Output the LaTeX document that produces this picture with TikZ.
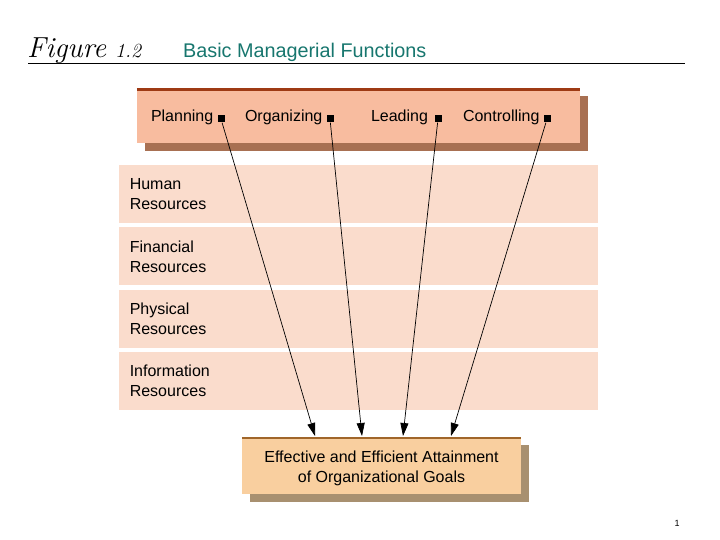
\documentclass[tikz,border=0pt]{standalone}
\usepackage{fontspec}
\newfontfamily\arial{Liberation Sans}
\usepackage{xcolor}
\usetikzlibrary{arrows.meta,shadows}
\definecolor{titleteal}{HTML}{17766E}
\definecolor{funcfill}{HTML}{F8BC9F}
\definecolor{funcline}{HTML}{9E3A14}
\definecolor{funcshade}{HTML}{A87052}
\definecolor{resfill}{HTML}{FADCCC}
\definecolor{goalfill}{HTML}{F9CF9F}
\definecolor{goalline}{HTML}{A0662A}
\definecolor{goalshade}{HTML}{A89070}

\tikzset{
	txt/.style = {inner sep=0, outer sep=0, font=\arial\fontsize{16}{20}\selectfont},
	func/.style = {txt, anchor=west},
	marker/.style = {fill=black, minimum size=7pt, inner sep=0},
	funcbox/.style = {fill=funcfill, minimum width=443pt, minimum height=55pt, inner sep=0,
		drop shadow={shadow xshift=8pt, shadow yshift=-8pt, fill=funcshade, opacity=1}},
	resbox/.style = {fill=resfill, minimum width=479pt, minimum height=58pt, inner sep=0},
	goalbox/.style = {fill=goalfill, minimum width=279pt, minimum height=57pt, inner sep=0,
		drop shadow={shadow xshift=8pt, shadow yshift=-8pt, fill=goalshade, opacity=1}},
	link/.style = {-{Triangle[length=13pt,width=8pt]}, line width=0.7pt}
}

\begin{document}
\begin{tikzpicture}[x=1pt, y=-1pt]
	\useasboundingbox (0,0) rectangle (720,540);
	% title
	\node[anchor=base west, inner sep=0, font=\itshape\fontsize{29}{29}\selectfont] (figure) at (27,58) {Figure};
	\node[anchor=base west, inner sep=0, font=\itshape\fontsize{20}{20}\selectfont] (fignum) at (115,58) {1.2};
	\node[anchor=base west, inner sep=0, text=titleteal, font=\arial\fontsize{19.8}{20}\selectfont] (title) at (183,58) {Basic Managerial Functions};
	\draw[line width=1pt] (28,64) -- (685,64);

	% functions
	\node[funcbox] (functions) at (358.5,115.5) {};
	\draw[funcline, line width=3pt] ([yshift=-1.5pt]functions.north west) -- ([yshift=-1.5pt]functions.north east);
	\node[func] (planning) at (151,117) {Planning};
	\node[func] (organizing) at (245,117) {Organizing};
	\node[func] (leading) at (371,117) {Leading};
	\node[func] (controlling) at (463,117) {Controlling};
	\node[marker] (m1) at (221,119) {};
	\node[marker] (m2) at (330,119) {};
	\node[marker] (m3) at (438,119) {};
	\node[marker] (m4) at (547,119) {};

	% resources
	\foreach \i/\name in {0/Human, 1/Financial, 2/Physical, 3/Information} {
		\node[resbox] (res\i) at (358.5,194+62.3*\i) {};
		\node[txt, anchor=west, align=left] (reslabel\i) at ([xshift=11pt]res\i.west) {\name\\Resources};
	}

	% goals
	\node[goalbox] (goals) at (381.5,465.5) {};
	\draw[goalline, line width=2pt] ([yshift=-1pt]goals.north west) -- ([yshift=-1pt]goals.north east);
	\node[txt, align=center] (goaltext) at ([yshift=-3pt]goals.center) {Effective and Efficient Attainment\\of Organizational Goals};
	\coordinate (g1) at (315,436);
	\coordinate (g2) at (362,436);
	\coordinate (g3) at (403,436);
	\coordinate (g4) at (451,436);

	\draw[link] (m1) -- (g1);
	\draw[link] (m2) -- (g2);
	\draw[link] (m3) -- (g3);
	\draw[link] (m4) -- (g4);

	\node[inner sep=0, font=\arial\fontsize{9}{9}\selectfont] (page) at (677,523) {1};
\end{tikzpicture}
\end{document}
